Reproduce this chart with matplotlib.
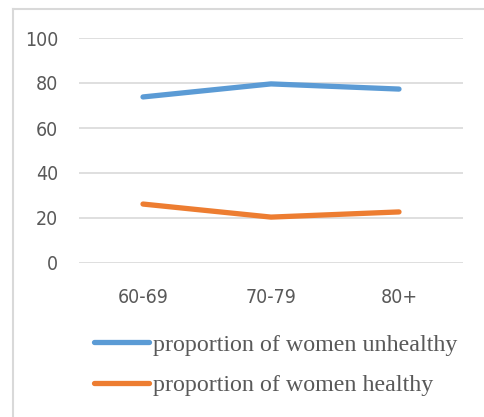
import matplotlib
matplotlib.use("Agg")
import matplotlib.pyplot as plt
from matplotlib.lines import Line2D
from matplotlib.font_manager import FontProperties

age_groups = ["60-69", "70-79", "80+"]
unhealthy = [73.8, 79.6, 77.3]
healthy = [26.2, 20.4, 22.7]
y_ticks = [0, 20, 40, 60, 80, 100]
series_labels = ["proportion of women unhealthy", "proportion of women healthy"]

W, H = 484, 417
fig = plt.figure(figsize=(W / 100, H / 100), dpi=100)
fig.patch.set_facecolor("white")

# light frame along the top and left of the chart area
frame_kw = dict(transform=fig.transFigure, color="#D9D9D9", linewidth=1.5)
fig.lines.append(Line2D([12.5 / W, 1.0], [1 - 8.5 / H, 1 - 8.5 / H], **frame_kw))
fig.lines.append(Line2D([12.5 / W, 12.5 / W], [0.0, 1 - 8.5 / H], **frame_kw))

ax = fig.add_axes([79 / W, 1 - 263 / H, (463 - 79) / W, (263 - 38) / H])
x = list(range(len(age_groups)))
ax.plot(x, unhealthy, color="#5B9BD5", linewidth=3.8, solid_capstyle="round",
        label=series_labels[0], zorder=3)
ax.plot(x, healthy, color="#ED7D31", linewidth=3.8, solid_capstyle="round",
        label=series_labels[1], zorder=3)

ax.set_xlim(-0.5, len(age_groups) - 0.5)
ax.set_ylim(0, 100)
ax.set_yticks(y_ticks)
ax.set_xticks(x)
ax.set_xticklabels(age_groups)
ax.yaxis.grid(True, color="#D9D9D9", linewidth=1.2)
ax.set_axisbelow(True)
for s in ax.spines.values():
    s.set_visible(False)
ax.tick_params(length=0)
tick_fp = FontProperties(family=["DejaVu Sans"], stretch="condensed", size=14)
for lbl in ax.get_yticklabels() + ax.get_xticklabels():
    lbl.set_fontproperties(tick_fp)
    lbl.set_color("#595959")
ax.tick_params(axis="y", pad=15)
ax.tick_params(axis="x", pad=18)

handles, labels = ax.get_legend_handles_labels()
leg = fig.legend(handles, labels, loc="upper left",
                 bbox_to_anchor=(94 / W, 1 - 334 / H),
                 frameon=False, borderpad=0, borderaxespad=0,
                 handlelength=2.3, handletextpad=0.17, labelspacing=0.78,
                 prop=dict(family=["Liberation Serif", "DejaVu Serif"], size=17.3))
for t in leg.get_texts():
    t.set_color("#595959")

fig.savefig("out.png", dpi=100, facecolor="white")
